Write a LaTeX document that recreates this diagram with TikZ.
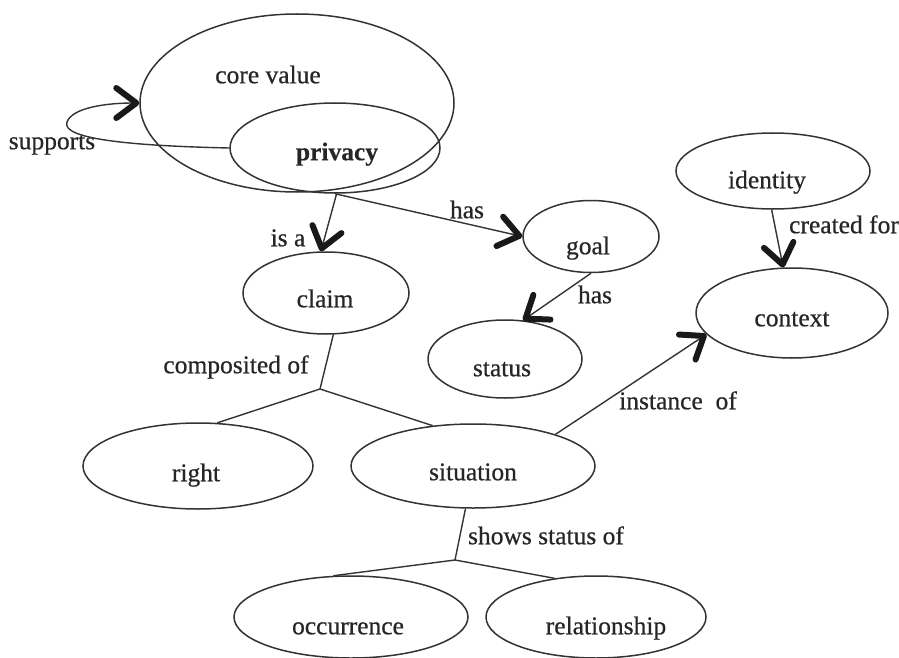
\documentclass[tikz,border=0pt]{standalone}
\usepackage{fontspec}
\setmainfont{Liberation Serif}[FakeBold=0.6]
\newfontfamily\boldserif{Liberation Serif Bold}[FakeBold=0.4]
\usetikzlibrary{shapes.geometric,arrows.meta}
\begin{document}
\begin{tikzpicture}[x=1pt,y=-1pt,
  ell/.style={ellipse,draw=black!80,line width=1.5pt,inner sep=0pt},
  lbl/.style={font=\fontsize{25.5}{30}\selectfont,text height=17.5pt,text depth=5pt,inner sep=0pt,text=black!85},
  con/.style={draw=black!80,line width=1.4pt},
  arr/.style={con,-{Straight Barb[length=20pt,width=30pt,line width=6pt,round,color=black!90]}}]
\useasboundingbox (0,0) rectangle (899,658);
% ellipses
\node[ell,minimum width=314pt,minimum height=178pt] (core) at (297,103) {};
\node[ell,minimum width=210pt,minimum height=90pt] (privacy) at (335,148) {};
\node[ell,minimum width=166pt,minimum height=82pt] (claim) at (326,293) {};
\node[ell,minimum width=136pt,minimum height=72pt] (goal) at (591,236.5) {};
\node[ell,minimum width=154pt,minimum height=78pt] (status) at (505,359) {};
\node[ell,minimum width=194pt,minimum height=76pt] (identity) at (773,171) {};
\node[ell,minimum width=192pt,minimum height=90pt] (context) at (792,313) {};
\node[ell,minimum width=230pt,minimum height=86pt] (right) at (198,466) {};
\node[ell,minimum width=244pt,minimum height=84pt] (situation) at (473,466) {};
\node[ell,minimum width=234pt,minimum height=82pt] (occurrence) at (351,617) {};
\node[ell,minimum width=220pt,minimum height=82pt] (relationship) at (596,617) {};
% texts in ellipses
\node[lbl] (tcore) at (268,77) {core value};
\node[lbl,font=\fontsize{25.5}{30}\boldserif] (tpriv) at (337,154) {privacy};
\node[lbl] (tclaim) at (325,301) {claim};
\node[lbl] (tgoal) at (588,248) {goal};
\node[lbl] (tstatus) at (502,370) {status};
\node[lbl] (tident) at (767,182) {identity};
\node[lbl] (tcontext) at (792,320) {context};
\node[lbl] (tright) at (196,475) {right};
\node[lbl] (tsit) at (473,474) {situation};
\node[lbl] (tocc) at (348,628) {occurrence};
\node[lbl] (trel) at (606,628) {relationship};
% connector labels
\node[lbl] (lsup) at (52,143) {supports};
\node[lbl] (lisa) at (288,240) {is a};
\node[lbl] (lhas1) at (467,212) {has};
\node[lbl] (lhas2) at (595,297) {has};
\node[lbl] (lcreated) at (844,227) {created for};
\node[lbl] (linst) at (678,403) {instance~~of};
\node[lbl] (lcomp) at (236,367) {composited of};
\node[lbl] (lshows) at (546,538) {shows status of};
% junctions
\coordinate (j1) at (320,389);
\coordinate (j2) at (455,560);
% connectors
\draw[arr] (privacy.west) .. controls (140,146) and (60,140) .. (67,122)
   .. controls (72,108) and (105,103) .. (core.west);
\draw[arr] (privacy.-88) -- (claim.97);
\draw[arr] (privacy.south) -- (goal.west);
\draw[arr] (goal.south) -- (status.65);
\draw[arr] (identity.-92) -- (context.101);
\draw[arr] (situation.21) -- (context.194);
\draw[con] (claim.-80) -- (j1);
\draw[con] (right.66) -- (j1) -- (situation.135);
\draw[con] (situation.-100) -- (j2);
\draw[con] (occurrence.113) -- (j2) -- (relationship.137);
\end{tikzpicture}
\end{document}
